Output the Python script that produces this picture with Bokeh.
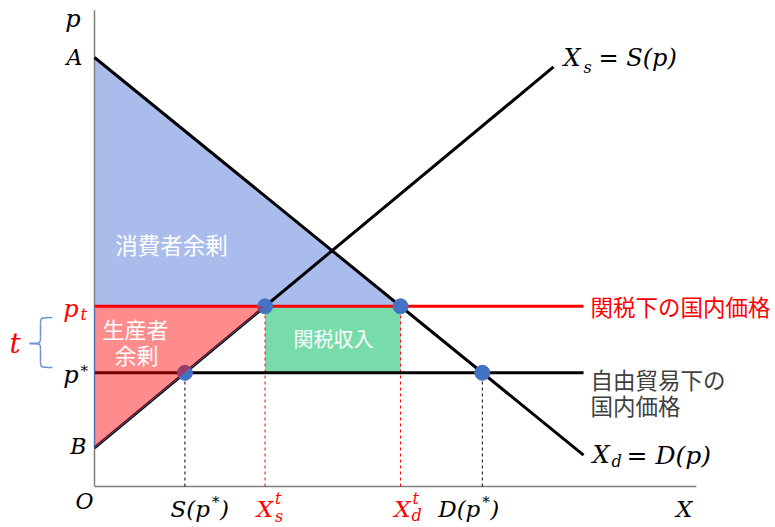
from bokeh.plotting import figure
from bokeh.models import Range1d
from bokeh.core.properties import value
from bokeh.embed import file_html
from bokeh.resources import INLINE

# ---- model values (quantity X, price p) ----
demand_intercept = 10.0      # A
demand_slope = 0.813
supply_intercept = 0.9       # B
supply_slope = 0.83
price_tariff = 4.2           # p_t
price_world = 2.65           # p*
demand_x_end = 11.4
supply_x_end = 10.7
axis_x_end = 14.03
axis_p_end = 11.1

def demand_q(pr):
    return (demand_intercept - pr) / demand_slope

def supply_q(pr):
    return (pr - supply_intercept) / supply_slope

A, B = demand_intercept, supply_intercept
pt, ps = price_tariff, price_world
xd_t, xs_t = demand_q(pt), supply_q(pt)
xd_w, xs_w = demand_q(ps), supply_q(ps)
d_end_p = A - demand_slope * demand_x_end
s_end_p = B + supply_slope * supply_x_end

W, H = 775, 527
SC = 42.9  # px per unit
OX, OY = 94, 486  # origin position on the canvas
p = figure(width=W, height=H, output_backend="svg", toolbar_location=None,
           x_range=Range1d(-OX / SC, (W - OX) / SC),
           y_range=Range1d((OY - H) / SC, OY / SC),
           min_border=0, outline_line_color=None)
p.xaxis.visible = False
p.yaxis.visible = False
p.grid.visible = False

def X(px):
    return (px - OX) / SC

def Y(py):
    return (OY - py) / SC

SERIF = value("DejaVu Serif")
CJK = value("Noto Sans CJK JP")

# consumer surplus
p.patch(x=[0, 0, xd_t], y=[A, pt, pt], fill_color="#AABCEC", line_color=None)
# tariff revenue
p.patch(x=[xs_t, xd_t, xd_t, xs_t], y=[pt, pt, ps, ps], fill_color="#78DCAA", line_color=None)

# axes
p.line(x=[0, 0], y=[0, axis_p_end], line_color="#7f7f7f", line_width=1.5)
p.line(x=[0, axis_x_end], y=[0, 0], line_color="#7f7f7f", line_width=1.5)

# dashed guides
p.line(x=[xs_w, xs_w], y=[0, ps], line_color="black", line_width=1, line_dash="3 3")
p.line(x=[xd_w, xd_w], y=[0, ps], line_color="black", line_width=1, line_dash="3 3")
p.line(x=[xs_t, xs_t], y=[0, pt], line_color="red", line_width=1, line_dash="3 3")
p.line(x=[xd_t, xd_t], y=[0, pt], line_color="red", line_width=1, line_dash="3 3")

# demand and supply
p.line(x=[0, demand_x_end], y=[A, d_end_p], line_color="black", line_width=3)
p.line(x=[0, supply_x_end], y=[B, s_end_p], line_color="black", line_width=3)

# price lines
p.line(x=[0, demand_x_end], y=[ps, ps], line_color="black", line_width=3)
p.line(x=[0, demand_x_end], y=[pt, pt], line_color="red", line_width=3)

# points
p.scatter(x=[xs_t, xd_t, xs_w, xd_w], y=[pt, pt, ps, ps], size=15,
          fill_color="#4472C4", line_color="#4472C4")

# producer surplus (translucent, on top)
p.patch(x=[0, xs_t, 0], y=[pt, pt, B], fill_color="red", fill_alpha=0.45,
        line_color=None)
p.line(x=[0, 0, xs_t], y=[pt, B, pt], line_color="#4472C4", line_width=1,
       line_alpha=0.8)

# brace for t
seg_q = [((52, 317), (40, 317), (40, 323)), ((40, 337), (40, 343), (29, 343)),
         ((29, 343), (40, 343), (40, 349)), ((40, 361), (40, 367), (52, 367))]
p.bezier(x0=[X(a[0]) for a, c, b in seg_q], y0=[Y(a[1]) for a, c, b in seg_q],
         x1=[X(b[0]) for a, c, b in seg_q], y1=[Y(b[1]) for a, c, b in seg_q],
         cx0=[X(c[0]) for a, c, b in seg_q], cy0=[Y(c[1]) for a, c, b in seg_q],
         cx1=[X(c[0]) for a, c, b in seg_q], cy1=[Y(c[1]) for a, c, b in seg_q],
         line_color="#6F94D4", line_width=1.5)
p.line(x=[X(40), X(40)], y=[Y(323), Y(337)], line_color="#6F94D4", line_width=1.5)
p.line(x=[X(40), X(40)], y=[Y(349), Y(361)], line_color="#6F94D4", line_width=1.5)


def t(x, y, s, size, dx=0, dy=0, color="black", font=SERIF, style="italic",
      align="left"):
    p.text(x=[x], y=[y], text=[s], x_offset=dx, y_offset=dy, text_font=font,
           text_font_size=f"{size}px", text_font_style=style, text_color=color,
           text_align=align, text_baseline="middle")

# vertical axis labels
t(0, axis_p_end, "p", 24, dx=-14, dy=9, align="right")
t(0, A, "A", 22, dx=-12, dy=0, align="right")
t(0, pt, "p", 24, dx=-16, dy=3, align="right", color="red")
t(0, pt, "t", 16, dx=-14, dy=8, color="red")
t(0, ps, "p", 24, dx=-16, dy=2, align="right")
t(0, ps, "*", 15, dx=-14, dy=-2, style="normal")
t(0, B, "B", 22, dx=-8, dy=-1, align="right")
t(0, 0, "O", 22, dx=-1, dy=15, align="right")
t(X(9), Y(343), "t", 28, color="red")

# horizontal axis labels
t(xs_w, 0, "S(p", 23, dx=25, dy=22, align="right")
t(xs_w, 0, "*", 15, dx=27, dy=15, style="normal")
t(xs_w, 0, ")", 23, dx=35, dy=22)
t(xs_t, 0, "X", 23, dx=8, dy=22, align="right", color="red")
t(xs_t, 0, "t", 16, dx=10, dy=12, color="red")
t(xs_t, 0, "s", 16, dx=10, dy=30, color="red")
t(xd_t, 0, "X", 23, dx=10, dy=22, align="right", color="red")
t(xd_t, 0, "t", 16, dx=12, dy=12, color="red")
t(xd_t, 0, "d", 16, dx=11, dy=29, color="red")
t(xd_w, 0, "D(p", 23, dx=-2, dy=22, align="right")
t(xd_w, 0, "*", 15, dx=0, dy=15, style="normal")
t(xd_w, 0, ")", 23, dx=8, dy=22)
t(axis_x_end, 0, "X", 23, dx=-4, dy=22, align="right")

# curve labels
t(supply_x_end, s_end_p, "X", 24, dx=10, dy=-9)
t(supply_x_end, s_end_p, "s", 16, dx=30, dy=1)
t(supply_x_end, s_end_p, "= S(p)", 24, dx=45, dy=-9)
t(demand_x_end, d_end_p, "X", 24, dx=9, dy=0)
t(demand_x_end, d_end_p, "d", 16, dx=28, dy=6)
t(demand_x_end, d_end_p, "= D(p)", 25, dx=43, dy=0)

# price line labels
t(demand_x_end, pt, "関税下の国内価格", 22.5, dx=7, color="red", font=CJK,
  style="normal")
t(demand_x_end, ps, "自由貿易下の", 22.5, dx=7, dy=6, color="#404040", font=CJK,
  style="normal")
t(demand_x_end, ps, "国内価格", 22.5, dx=7, dy=32, color="#404040", font=CJK,
  style="normal")

# area labels
t(X(171), Y(243), "消費者余剰", 22.5, color="white", font=CJK, style="normal",
  align="center")
t(X(135), Y(327), "生産者", 22, color="white", font=CJK, style="normal",
  align="center")
t(X(136), Y(353), "余剰", 22, color="white", font=CJK, style="normal",
  align="center")
t(X(333), Y(338), "関税収入", 20, color="white", font=CJK, style="normal",
  align="center")

open("out.html", "w").write(file_html(p, INLINE))
